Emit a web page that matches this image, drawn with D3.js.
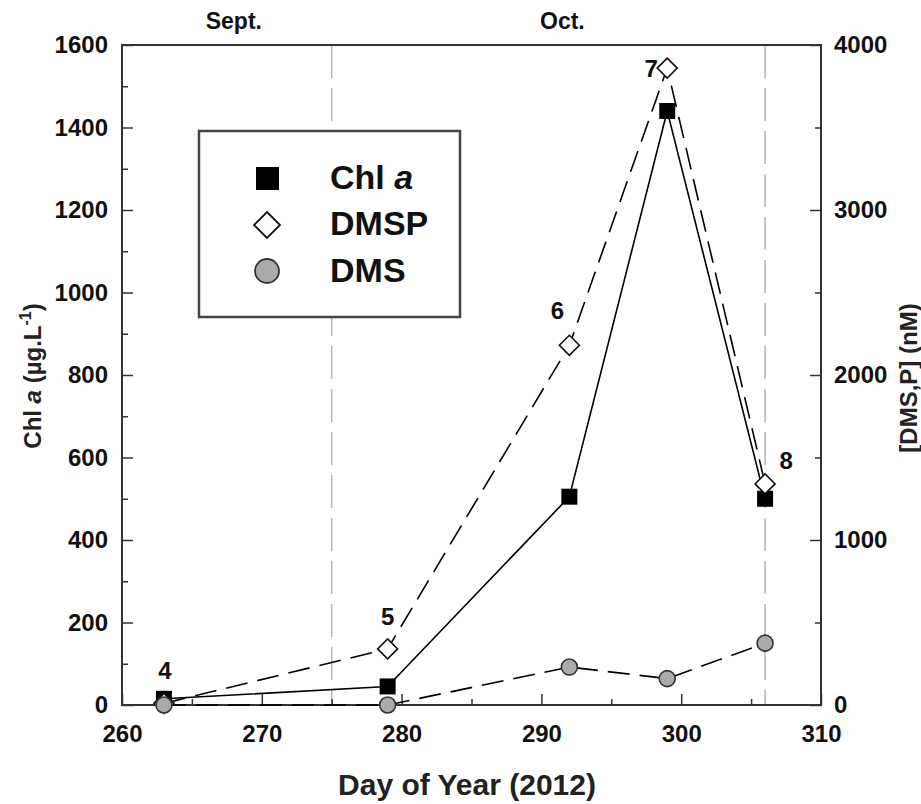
<!DOCTYPE html>
<html>
<head>
<meta charset="utf-8">
<script src="https://cdn.jsdelivr.net/npm/d3@7"></script>
<style>
  body { margin: 0; background: #fff; }
  svg text { font-family: "Liberation Sans", Arial, sans-serif; }
</style>
</head>
<body>
<svg id="chart" width="921" height="804"></svg>
<script>
// values
const days = [263, 279, 292, 299, 306]
const chlA = [15, 45, 505, 1440, 500]        // µg/L, left axis
const dmsp = [10, 340, 2180, 3860, 1340]     // nM, right axis
const dms = [0, 0, 230, 160, 375]            // nM, right axis
const stations = ['4', '5', '6', '7', '8']
const xTicks = [260, 270, 280, 290, 300, 310]
const leftTicks = [0, 200, 400, 600, 800, 1000, 1200, 1400, 1600]
const rightTicks = [0, 1000, 2000, 3000, 4000]
const months = ['Sept.', 'Oct.']
const monthDays = [268, 291.5]
const boundaryDays = [275, 306]

const svg = d3.select('#chart')
const L = 122, R = 821, T = 45, B = 705

const x = d3.scaleLinear().domain([260, 310]).range([L, R])
const yL = d3.scaleLinear().domain([0, 1600]).range([B, T])
const yR = d3.scaleLinear().domain([0, 4000]).range([B, T])
const fmt = d3.format('d')

// month boundaries (grey dashed)
svg.selectAll('.bound').data(boundaryDays).enter().append('line')
    .attr('x1', d => x(d)).attr('x2', d => x(d))
    .attr('y1', T).attr('y2', B)
    .attr('stroke', '#b4b4b4').attr('stroke-width', 1.5)
    .attr('stroke-dasharray', '33,10')

// minor ticks
function minor(axis, tr) {
    const g = svg.append('g').attr('transform', tr).call(axis)
    g.select('.domain').remove()
    g.selectAll('line').attr('stroke', '#333').attr('stroke-width', 1.5)
}
minor(d3.axisBottom(x).tickValues(d3.range(265, 310, 10)).tickSize(-6).tickFormat(''), `translate(0,${B})`)
minor(d3.axisLeft(yL).tickValues(d3.range(100, 1600, 200)).tickSize(-6).tickFormat(''), `translate(${L},0)`)
minor(d3.axisRight(yR).tickValues(d3.range(500, 4000, 1000)).tickSize(-6).tickFormat(''), `translate(${R},0)`)

// major axes
function major(axis, tr) {
    const g = svg.append('g').attr('transform', tr).call(axis)
    g.select('.domain').remove()
    g.selectAll('line').attr('stroke', '#333').attr('stroke-width', 1.5)
    g.selectAll('text').attr('font-size', 24).attr('font-weight', 'bold').attr('fill', '#111')
        .style('font-family', '"Liberation Sans", Arial, sans-serif')
    return g
}
major(d3.axisBottom(x).tickValues(xTicks).tickFormat(fmt).tickSize(-11).tickSizeOuter(0).tickPadding(20), `translate(0,${B})`)
major(d3.axisLeft(yL).tickValues(leftTicks).tickFormat(fmt).tickSize(-11).tickSizeOuter(0).tickPadding(14), `translate(${L},0)`)
major(d3.axisRight(yR).tickValues(rightTicks).tickFormat(fmt).tickSize(-11).tickSizeOuter(0).tickPadding(13), `translate(${R},0)`)

// frame
svg.append('rect').attr('x', L).attr('y', T).attr('width', R - L).attr('height', B - T)
    .attr('fill', 'none').attr('stroke', '#333').attr('stroke-width', 2)

// lines
const pts = days.map((d, i) => ({ day: d, chl: chlA[i], dmsp: dmsp[i], dms: dms[i], st: stations[i] }))
const lineOf = (f, sc) => d3.line().x(d => x(d.day)).y(d => sc(d[f]))

svg.append('path').datum(pts).attr('d', lineOf('chl', yL))
    .attr('fill', 'none').attr('stroke', '#000').attr('stroke-width', 1.6)
svg.append('path').datum(pts).attr('d', lineOf('dmsp', yR))
    .attr('fill', 'none').attr('stroke', '#000').attr('stroke-width', 1.6).attr('stroke-dasharray', '22,10')
svg.append('path').datum(pts).attr('d', lineOf('dms', yR))
    .attr('fill', 'none').attr('stroke', '#000').attr('stroke-width', 1.6).attr('stroke-dasharray', '22,10')

// markers
const sq = d3.symbol().type(d3.symbolSquare).size(16 * 16)
const dia = s => `M0,${-s}L${s},0L0,${s}L${-s},0Z`

svg.selectAll('.chl').data(pts).enter().append('path')
    .attr('d', sq).attr('transform', d => `translate(${x(d.day)},${yL(d.chl)})`)
    .attr('fill', '#000')
svg.selectAll('.dmsp').data(pts).enter().append('path')
    .attr('d', dia(10)).attr('transform', d => `translate(${x(d.day)},${yR(d.dmsp)})`)
    .attr('fill', '#fff').attr('stroke', '#111').attr('stroke-width', 1.6)
svg.selectAll('.dms').data(pts).enter().append('circle')
    .attr('cx', d => x(d.day)).attr('cy', d => yR(d.dms)).attr('r', 8)
    .attr('fill', '#aaa').attr('stroke', '#333').attr('stroke-width', 1.6)

// station numbers
const offs = [[1, -20], [0, -24], [-12, -26], [-16, 9], [21, -15]]
svg.selectAll('.st').data(pts).enter().append('text')
    .attr('x', (d, i) => x(d.day) + offs[i][0])
    .attr('y', (d, i) => Math.min(yL(d.chl), yR(d.dmsp)) + offs[i][1])
    .attr('text-anchor', 'middle').attr('font-size', 24).attr('font-weight', 'bold').attr('fill', '#111')
    .text(d => d.st)

// month labels
svg.selectAll('.mon').data(months).enter().append('text')
    .attr('x', (d, i) => x(monthDays[i])).attr('y', 29)
    .attr('text-anchor', 'middle').attr('font-size', 23).attr('font-weight', 'bold').attr('fill', '#111')
    .text(d => d)

// axis titles
svg.append('text').attr('x', 467).attr('y', 795).attr('text-anchor', 'middle')
    .attr('font-size', 30).attr('font-weight', 'bold').attr('fill', '#222')
    .text('Day of Year (2012)')

const lt = svg.append('text').attr('transform', 'translate(41,376) rotate(-90)')
    .attr('text-anchor', 'middle').attr('font-size', 24).attr('font-weight', 'bold').attr('fill', '#222')
lt.append('tspan').text('Chl ')
lt.append('tspan').attr('font-style', 'italic').text('a')
lt.append('tspan').text(' (µg.L')
lt.append('tspan').attr('font-size', 16).attr('dy', -10).text('-1')
lt.append('tspan').attr('dy', 10).text(')')

svg.append('text').attr('transform', 'translate(917,378) rotate(-90)')
    .attr('text-anchor', 'middle').attr('font-size', 24).attr('font-weight', 'bold').attr('fill', '#222')
    .text('[DMS,P] (nM)')

// legend
const lg = svg.append('g')
lg.append('rect').attr('x', 199).attr('y', 131).attr('width', 261).attr('height', 186)
    .attr('fill', '#fff').attr('stroke', '#444').attr('stroke-width', 2.5)
lg.append('rect').attr('x', 256).attr('y', 167).attr('width', 23).attr('height', 23).attr('fill', '#000')
lg.append('path').attr('d', dia(13)).attr('transform', 'translate(267,225)')
    .attr('fill', '#fff').attr('stroke', '#111').attr('stroke-width', 1.8)
lg.append('circle').attr('cx', 267).attr('cy', 271).attr('r', 12)
    .attr('fill', '#aaa').attr('stroke', '#333').attr('stroke-width', 1.8)
const lt1 = lg.append('text').attr('x', 330).attr('y', 189).attr('font-size', 34).attr('font-weight', 'bold').attr('fill', '#111')
lt1.append('tspan').text('Chl ')
lt1.append('tspan').attr('font-style', 'italic').text('a')
lg.append('text').attr('x', 330).attr('y', 235).attr('font-size', 34).attr('font-weight', 'bold').attr('fill', '#111').text('DMSP')
lg.append('text').attr('x', 330).attr('y', 282).attr('font-size', 34).attr('font-weight', 'bold').attr('fill', '#111').text('DMS')
</script>
</body>
</html>
